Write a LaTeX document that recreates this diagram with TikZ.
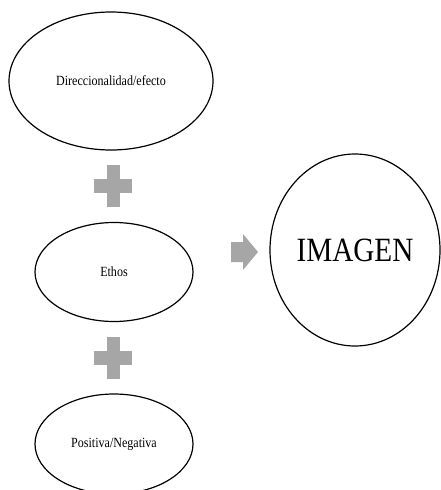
\documentclass[tikz,border=0pt]{standalone}
\usepackage{fontspec}
\setmainfont{Liberation Serif}
\usepackage{graphicx}
\usepackage{tikz}
\usetikzlibrary{shapes.geometric}
\definecolor{signgray}{RGB}{166,166,166}
\newcommand{\narrowtext}[1]{\scalebox{0.86}[1]{#1}}

\tikzset{
  idea/.style={ellipse, draw, line width=1.2pt, inner sep=0pt, font=\fontsize{14}{16}\selectfont},
  plussign/.pic={
    \fill[signgray] (-6.5,-21) rectangle (6.5,21);
    \fill[signgray] (-19,-7) rectangle (19,7);
  }
}

\begin{document}
\begin{tikzpicture}[x=1pt, y=-1pt]
      \useasboundingbox (0,0) rectangle (441,490);

      \node[idea, minimum width=204pt, minimum height=138pt](Dir) at (111, 81) {\narrowtext{Direccionalidad/efecto}};
      \pic at (113, 186) {plussign};
      \node[idea, minimum width=158pt, minimum height=99pt](Eth) at (114, 272) {\narrowtext{Ethos}};
      \pic at (113, 358) {plussign};
      \node[idea, minimum width=158pt, minimum height=100pt](Pos) at (114, 444) {\narrowtext{Positiva/Negativa}};

      \fill[signgray] (231, 242) -- (243, 242) -- (243, 234) -- (258, 252)
                      -- (243, 270) -- (243, 262) -- (231, 262) -- cycle;

      \node[idea, minimum width=170pt, minimum height=192pt, font=\fontsize{34}{38}\selectfont](Img) at (355, 250) {\narrowtext{IMAGEN}};
    \end{tikzpicture}
\end{document}
